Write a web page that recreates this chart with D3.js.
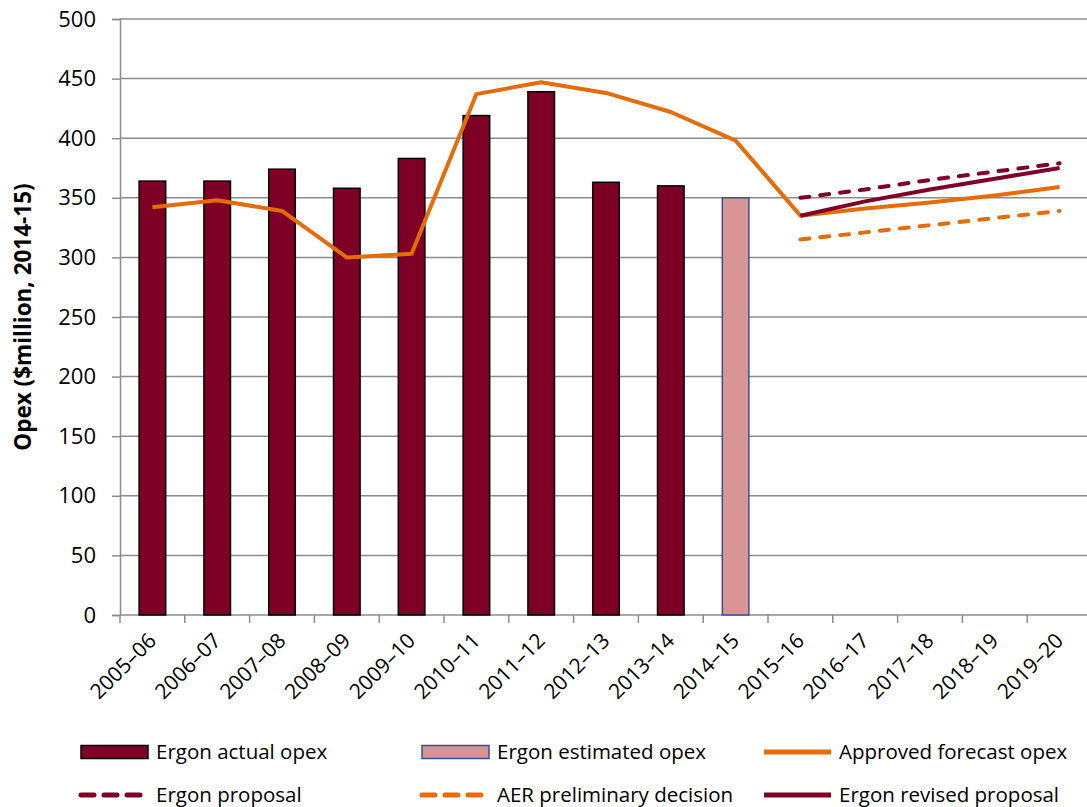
<!DOCTYPE html>
<html>
<head>
<meta charset="utf-8">
<script src="https://cdn.jsdelivr.net/npm/d3@7"></script>
<style>
  body { margin: 0; background: #fff; }
  svg { display: block; font-family: "Open Sans", Calibri, sans-serif; }
</style>
</head>
<body>
<svg id="chart" width="1087" height="807"></svg>
<script>
// categories (financial years)
var years = ["2005–06", "2006–07", "2007–08", "2008–09", "2009–10", "2010–11", "2011–12",
             "2012–13", "2013–14", "2014–15", "2015–16", "2016–17", "2017–18", "2018–19", "2019–20"];

// bars
var actualYears = ["2005–06", "2006–07", "2007–08", "2008–09", "2009–10", "2010–11", "2011–12", "2012–13", "2013–14"];
var actualOpex = [364, 364, 374, 358, 383, 419, 439, 363, 360];
var estimatedYears = ["2014–15"];
var estimatedOpex = [350];

// lines
var approvedYears = years;
var approvedOpex = [342, 348, 339, 300, 303, 437, 447, 438, 422, 398, 335, 341, 346, 352, 359];
var forecastYears = ["2015–16", "2016–17", "2017–18", "2018–19", "2019–20"];
var ergonProposal = [350, 357, 365, 372, 379];
var aerPreliminary = [315, 321, 327, 333, 339];
var ergonRevised = [335, 347, 357, 366, 375];

var yTicks = [0, 50, 100, 150, 200, 250, 300, 350, 400, 450, 500];

var darkRed = "#7f0026", orange = "#e46c0a", pink = "#d99594", blue = "#2f5597";

var svg = d3.select("#chart"),
    margin = {top: 19, right: -5, bottom: 192, left: 120},
    width = +svg.attr("width") - margin.left - margin.right,
    height = +svg.attr("height") - margin.top - margin.bottom,
    g = svg.append("g").attr("transform", "translate(" + margin.left + "," + margin.top + ")");

var x = d3.scaleBand().domain(years).range([0, width]);
var y = d3.scaleLinear().domain([0, 500]).range([height, 0]);
var cx = function(d) { return x(d) + x.bandwidth() / 2; };

// gridlines
g.append("g")
  .selectAll("line")
  .data(yTicks.slice(1))
  .enter().append("line")
    .attr("x1", 0).attr("x2", width)
    .attr("y1", function(d) { return y(d); })
    .attr("y2", function(d) { return y(d); })
    .attr("stroke", "#8c8c8c")
    .attr("stroke-width", 1.5);

// y axis
var yAxis = g.append("g")
  .call(d3.axisLeft(y).tickValues(yTicks).tickSize(8).tickPadding(16));
yAxis.select(".domain").attr("stroke", "#8c8c8c").attr("stroke-width", 1.5);
yAxis.selectAll(".tick line").attr("stroke", "#8c8c8c").attr("stroke-width", 1.5);
yAxis.selectAll("text").attr("font-size", 22).attr("fill", "#000")
  .style("font-family", "Open Sans");

// x axis: ticks at category boundaries
var xAxis = g.append("g").attr("transform", "translate(0," + height + ")");
xAxis.append("line").attr("x1", 0).attr("x2", width)
  .attr("stroke", "#8c8c8c").attr("stroke-width", 1.5);
xAxis.selectAll(".bt")
  .data(years)
  .enter().append("line")
    .attr("class", "bt")
    .attr("x1", function(d) { return x(d); })
    .attr("x2", function(d) { return x(d); })
    .attr("y1", 0).attr("y2", 8)
    .attr("stroke", "#8c8c8c").attr("stroke-width", 1.5);
xAxis.selectAll(".lab")
  .data(years)
  .enter().append("text")
    .attr("class", "lab")
    .attr("text-anchor", "end")
    .attr("font-size", 21)
    .attr("transform", function(d) { return "translate(" + (cx(d) + 5) + ",27) rotate(-45)"; })
    .text(function(d) { return d; });

// axis title
svg.append("text")
  .attr("transform", "translate(31," + (margin.top + height / 2) + ") rotate(-90)")
  .attr("text-anchor", "middle")
  .attr("font-size", 22.5)
  .attr("font-weight", "bold")
  .text("Opex ($million, 2014-15)");

// bars
var barW = x.bandwidth() * 0.41;
g.selectAll(".actual")
  .data(actualOpex)
  .enter().append("rect")
    .attr("class", "actual")
    .attr("x", function(d, i) { return cx(actualYears[i]) - barW / 2; })
    .attr("y", function(d) { return y(d); })
    .attr("width", barW)
    .attr("height", function(d) { return height - y(d); })
    .attr("fill", darkRed)
    .attr("stroke", "#000")
    .attr("stroke-width", 1.5);

g.selectAll(".estimated")
  .data(estimatedOpex)
  .enter().append("rect")
    .attr("class", "estimated")
    .attr("x", function(d, i) { return cx(estimatedYears[i]) - barW / 2; })
    .attr("y", function(d) { return y(d); })
    .attr("width", barW)
    .attr("height", function(d) { return height - y(d); })
    .attr("fill", pink)
    .attr("stroke", blue)
    .attr("stroke-width", 1.5);

// lines
function drawLine(cats, vals, color, dash) {
  var line = d3.line()
    .x(function(d, i) { return cx(cats[i]); })
    .y(function(d) { return y(d); });
  g.append("path")
    .datum(vals)
    .attr("fill", "none")
    .attr("stroke", color)
    .attr("stroke-width", 4)
    .attr("stroke-linejoin", "round")
    .attr("stroke-linecap", dash ? "round" : "butt")
    .attr("stroke-dasharray", dash || null)
    .attr("d", line);
}
drawLine(approvedYears, approvedOpex, orange);
drawLine(forecastYears, aerPreliminary, orange, "9,11");
drawLine(forecastYears, ergonRevised, darkRed);
drawLine(forecastYears, ergonProposal, darkRed, "9,11");

// legend
var legendItems = [
  {name: "Ergon actual opex", type: "rect", fill: darkRed, stroke: "#000", x: 81, y: 752},
  {name: "Ergon estimated opex", type: "rect", fill: pink, stroke: blue, x: 422, y: 752},
  {name: "Approved forecast opex", type: "line", color: orange, x: 764, y: 752},
  {name: "Ergon proposal", type: "dash", color: darkRed, x: 81, y: 795},
  {name: "AER preliminary decision", type: "dash", color: orange, x: 422, y: 795},
  {name: "Ergon revised proposal", type: "line", color: darkRed, x: 764, y: 795}
];
var leg = svg.append("g").selectAll("g")
  .data(legendItems)
  .enter().append("g")
    .attr("transform", function(d) { return "translate(" + d.x + "," + d.y + ")"; });
leg.filter(function(d) { return d.type === "rect"; })
  .append("rect")
    .attr("x", 0).attr("y", -6.5).attr("width", 67).attr("height", 13)
    .attr("fill", function(d) { return d.fill; })
    .attr("stroke", function(d) { return d.stroke; })
    .attr("stroke-width", 1.5);
leg.filter(function(d) { return d.type !== "rect"; })
  .append("line")
    .attr("x1", function(d) { return d.type === "dash" ? 0 : 0; })
    .attr("x2", function(d) { return d.type === "dash" ? 62 : 67; })
    .attr("y1", 0).attr("y2", 0)
    .attr("stroke", function(d) { return d.color; })
    .attr("stroke-width", 5)
    .attr("stroke-linecap", function(d) { return d.type === "dash" ? "round" : "butt"; })
    .attr("stroke-dasharray", function(d) { return d.type === "dash" ? "13,10" : null; });
leg.append("text")
  .attr("x", 75)
  .attr("dy", "0.35em")
  .attr("font-size", 20.5)
  .text(function(d) { return d.name; });
</script>
</body>
</html>
